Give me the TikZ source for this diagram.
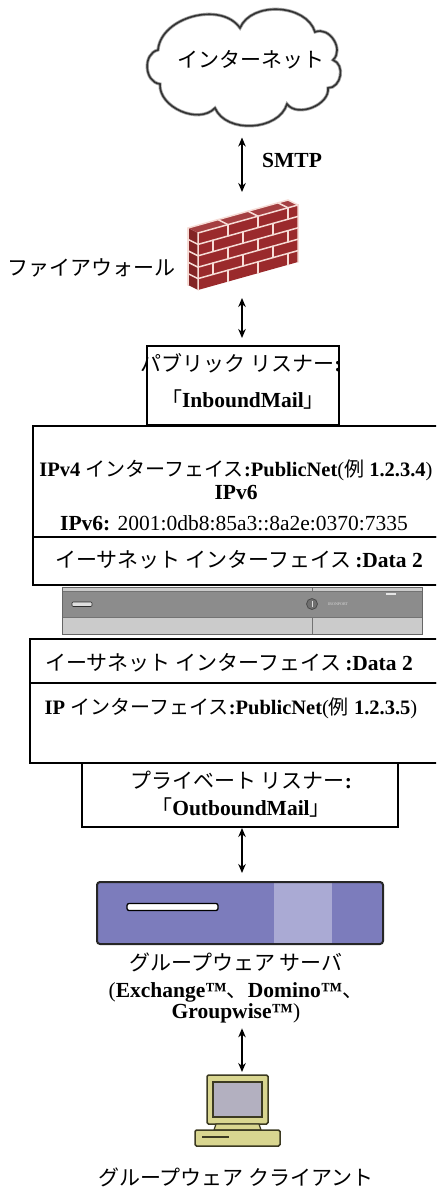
\documentclass[tikz,border=0pt]{standalone}
\usepackage{fontspec}
\setmainfont{Liberation Serif}
\newfontfamily\jp[Scale=0.977]{Noto Sans CJK JP}
\usetikzlibrary{arrows.meta,calc}

\definecolor{brick}{HTML}{9A2A2C}
\definecolor{mortar}{HTML}{F6DCD6}
\definecolor{srvfill}{HTML}{7C7CBC}
\definecolor{srvlight}{HTML}{AAAAD4}
\definecolor{pcbody}{HTML}{D9D690}
\definecolor{pcscreen}{HTML}{B3B0C0}
\definecolor{pcedge}{HTML}{3C3A22}
\definecolor{apdark}{HTML}{8C8C8C}
\definecolor{aplight}{HTML}{CBCBCB}

\newcommand\J[1]{{\jp #1}}
\newcommand\B[1]{{\bfseries #1}}

\begin{document}
\begin{tikzpicture}[x=1pt, y=-1pt,
  txt/.style={font=\fontsize{21.5}{24}\selectfont, inner sep=0pt},
  txtnarrow/.style={font=\fontsize{20.5}{23}\selectfont, inner sep=0pt},
  panel/.style={draw, line width=2.5pt},
  holder/.style={inner sep=0pt, outer sep=0pt},
  biarrow/.style={line width=1.3pt,
    {Stealth[length=9pt,width=7.5pt]}-{Stealth[length=9pt,width=7.5pt]}}]
\useasboundingbox (0,0) rectangle (436,1190);
\clip (0,0) rectangle (436,1190);
\coordinate (axis) at (242,0);

% ---- Internet cloud ----
\draw[line width=3.2pt, draw=black!35, fill=white]
  (158,50) to[bend left=70] (240,28) to[bend left=70] (315,32)
  to[bend left=80, looseness=1.2] (333,60) to[bend left=80, looseness=1.2] (328,88)
  to[bend left=75] (287,104) to[bend left=70] (215,108)
  to[bend left=70] (160,84) to[bend left=80, looseness=1.2] cycle;
\draw[line width=1.6pt, draw=black!80]
  (158,50) to[bend left=70] (240,28) to[bend left=70] (315,32)
  to[bend left=80, looseness=1.2] (333,60) to[bend left=80, looseness=1.2] (328,88)
  to[bend left=75] (287,104) to[bend left=70] (215,108)
  to[bend left=70] (160,84) to[bend left=80, looseness=1.2] cycle;
\node[holder, minimum width=196pt, minimum height=125pt] (cloud) at (242,65) {};
\node[txt] (inet) at (251,60) {\J{インターネット}};

% ---- Firewall ----
\node[holder, minimum width=112pt, minimum height=96pt] (fw) at (243,245) {};
\begin{scope}[shift={(198,290)}, x={(100pt,28pt)}, y={(0pt,57pt)}, z={(-10pt,5pt)}]
  \fill[brick] (0,0,0) -- (1,0,0) -- (1,1,0) -- (0,1,0) -- cycle;
  \fill[brick!85!black] (0,0,0) -- (0,1,0) -- (0,1,1) -- (0,0,1) -- cycle;
  \fill[brick!90!white] (0,1,0) -- (1,1,0) -- (1,1,1) -- (0,1,1) -- cycle;
  \begin{scope}[mortar, line width=1.5pt, line cap=round]
    \foreach \k in {1,2,3,4} {
      \draw (0,\k/5,0) -- (1,\k/5,0);
      \draw (0,\k/5,0) -- (0,\k/5,1);
    }
    \foreach \k in {0,2,4} \foreach \u in {0.3,0.6,0.9}
      \draw (\u,\k/5,0) -- (\u,\k/5+0.2,0);
    \foreach \k in {1,3} \foreach \u in {0.15,0.45,0.75}
      \draw (\u,\k/5,0) -- (\u,\k/5+0.2,0);
    \foreach \u in {0.3,0.6,0.9}
      \draw (\u,1,0) -- (\u,1,1);
    \draw (0,0,0) -- (0,1,0) -- (1,1,0) -- (1,0,0);
    \draw (0,1,1) -- (1,1,1) -- (1,1,0);
    \draw (0,0,1) -- (0,1,1);
  \end{scope}
\end{scope}
\node[txt, anchor=east] (fwlbl) at (176,268) {\J{ファイアウォール}};

% ---- public listener ----
\node[panel, holder, minimum width=192pt, minimum height=79pt] (pub) at (243,385.5) {};
\node[txt] (pub1) at (241,363) {\J{パブリック リスナー}\B{:}};
\node[txt] (pub2) at (243,400) {\J{「}\B{InboundMail}\J{」}};

% ---- outer interface panels ----
\draw[panel] (33,426) rectangle (446,537);
\draw[panel] (33,537) rectangle (446,585);
\node[txtnarrow] (ipv4) at (236,470) {\B{IPv4 }\J{インターフェイス}\B{:PublicNet}(\J{例}\B{ 1.2.3.4})};
\node[txt] (ipv6a) at (236,492) {\B{IPv6}};
\node[txt] (ipv6b) at (234,523) {\B{IPv6:} 2001:0db8:85a3::8a2e:0370:7335};
\node[txt] (eth1) at (239,560) {\J{イーサネット インターフェイス}\B{\,:Data 2}};

% ---- appliance front ----
\fill[aplight] (62,587) rectangle (422,634);
\fill[apdark] (62,591) rectangle (422,617);
\draw[black!55, line width=0.8pt] (62,591) -- (422,591) (62,617) -- (422,617);
\draw[black!55, line width=0.8pt] (312,587) -- (312,591) (312,617) -- (312,634);
\draw[black!60, line width=1pt] (62,587) rectangle (422,634);
\draw[black!70, fill=apdark!80!black, line width=0.8pt] (312,604) circle (5.5pt);
\draw[gray!25, line width=1pt] (312,601) -- (312,607);
\node[font=\fontsize{4}{4}\selectfont, text=gray!30, inner sep=0pt] (brand) at (338,604) {IRONPORT};
\draw[gray!35!black, fill=gray!25, rounded corners=1pt, line width=0.6pt] (72,602) rectangle (92,606.5);
\draw[gray!20, line width=1.2pt] (386,594) -- (396,594);

% ---- inner interface panels ----
\draw[panel] (30,639) rectangle (446,683);
\draw[panel] (30,683) rectangle (446,763);
\node[txt] (eth2) at (229,663) {\J{イーサネット インターフェイス}\B{\,:Data 2}};
\node[txtnarrow] (ip2) at (231,708) {\B{IP }\J{インターフェイス}\B{:PublicNet}(\J{例}\B{ 1.2.3.5})};

% ---- private listener ----
\node[panel, holder, minimum width=316pt, minimum height=64pt] (priv) at (240,795) {};
\node[txt] (priv1) at (241,780) {\J{プライベート リスナー}\B{:}};
\node[txt] (priv2) at (241,808) {\J{「}\B{OutboundMail}\J{」}};

% ---- groupware server ----
\node[holder, minimum width=286pt, minimum height=62pt] (srv) at (240,913) {};
\fill[srvfill, rounded corners=3pt] (97,882) rectangle (383,944);
\fill[srvlight] (274,883) rectangle (332,943);
\draw[line width=2pt, black!85, rounded corners=3pt] (97,882) rectangle (383,944);
\draw[line width=1.3pt, fill=white, rounded corners=2pt] (127,903.5) rectangle (218,910.5);
\node[txt, align=center] (srvlbl) at (236,988)
  {\J{グループウェア サーバ}\\[3pt]
   (\B{Exchange™}\J{、}\B{Domino™}\J{、}\\[-3pt]
   \B{Groupwise™})};

% ---- groupware client ----
\node[holder, minimum width=85pt, minimum height=72pt] (pc) at (237.5,1111) {};
\draw[pcedge, fill=pcbody, line width=1.5pt, rounded corners=1.5pt] (207,1075) rectangle (268,1124);
\draw[pcedge, fill=pcscreen, line width=1.2pt] (213,1082) rectangle (262,1117);
\draw[pcedge, fill=pcbody, line width=1.2pt] (216,1124) -- (259,1124) -- (261,1130) -- (214,1130) -- cycle;
\draw[pcedge, fill=pcbody, line width=1.5pt, rounded corners=1.5pt] (195,1130) rectangle (280,1146);
\fill[pcedge] (202,1135.5) rectangle (229,1138);
\node[txt] (pclbl) at (236,1177) {\J{グループウェア クライアント}};

% ---- connectors ----
\draw[biarrow, shorten <=10pt, shorten >=5pt] (cloud.south -| axis) -- (fw.north -| axis);
\node[txt, anchor=west] (smtp) at (262,160) {\B{SMTP}};
\draw[biarrow, shorten <=5pt, shorten >=8pt] (fw.south -| axis) -- (pub.north -| axis);
\draw[biarrow, shorten <=1pt, shorten >=9pt] (priv.south -| axis) -- (srv.north -| axis);
\draw[biarrow, shorten <=5pt, shorten >=3pt] (srvlbl.south -| axis) -- (pc.north -| axis);
\end{tikzpicture}
\end{document}
